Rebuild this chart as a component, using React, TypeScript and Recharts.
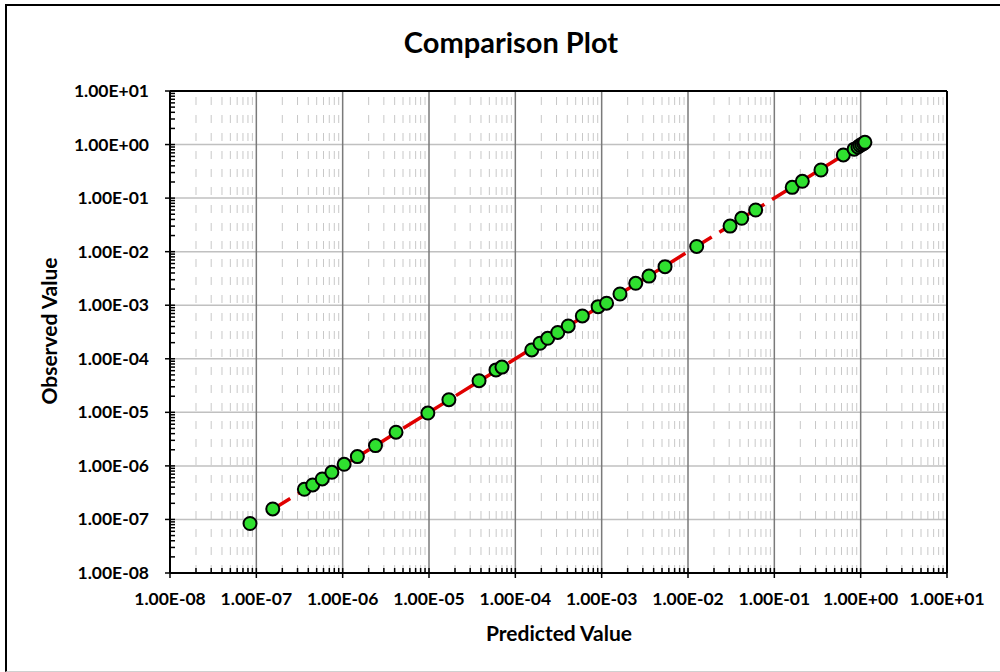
import React from 'react';
import { ComposedChart, Scatter, XAxis, YAxis, ReferenceLine } from 'recharts';

// Data
const predicted = [
  8.45e-8, 1.55e-7, 3.6e-7, 4.5e-7, 5.8e-7, 7.5e-7, 1.04e-6, 1.48e-6, 2.4e-6, 4.15e-6,
  9.7e-6, 1.7e-5, 3.8e-5, 5.97e-5, 7.0e-5, 1.55e-4, 1.93e-4, 2.37e-4, 3.1e-4, 4.1e-4,
  5.97e-4, 9.1e-4, 1.14e-3, 1.63e-3, 2.48e-3, 3.53e-3, 5.42e-3, 1.26e-2, 3.07e-2, 4.19e-2,
  6.08e-2, 0.161, 0.211, 0.347, 0.63, 0.84, 0.93, 0.98, 1.03, 1.08, 1.12,
];
const observed = [
  8.4e-8, 1.57e-7, 3.66e-7, 4.4e-7, 5.7e-7, 7.6e-7, 1.07e-6, 1.49e-6, 2.39e-6, 4.25e-6,
  9.7e-6, 1.72e-5, 3.9e-5, 6.2e-5, 7.0e-5, 1.46e-4, 1.95e-4, 2.41e-4, 3.1e-4, 4.1e-4,
  6.3e-4, 9.4e-4, 1.09e-3, 1.62e-3, 2.57e-3, 3.5e-3, 5.25e-3, 1.25e-2, 3.0e-2, 4.2e-2,
  6.0e-2, 0.159, 0.206, 0.335, 0.64, 0.82, 0.9, 0.96, 1.0, 1.05, 1.1,
];
const fitX = [1.5e-7, 1.1];
const fitY = [1.5e-7, 1.1];

const majorTicks = [1e-8, 1e-7, 1e-6, 1e-5, 1e-4, 1e-3, 1e-2, 1e-1, 1, 10];
const minorMultipliers = [2, 3, 4, 5, 6, 7, 8, 9];

const minorTicks: number[] = [];
majorTicks.slice(0, -1).forEach((m) => minorMultipliers.forEach((k) => minorTicks.push(+(m * k).toPrecision(3))));
const allTicks = [...majorTicks, ...minorTicks].sort((a, b) => a - b);

const points = predicted.map((p, i) => ({ x: p, y: observed[i] }));
const fitLine = fitX.map((x, i) => ({ x, y: fitY[i] }));

const FONT = 'Lato, "Noto Sans", sans-serif';

const isMajor = (v: number) => {
  const l = Math.log10(v);
  return Math.abs(l - Math.round(l)) < 1e-6;
};
const fmt = (v: number) => {
  const e = Math.round(Math.log10(v));
  const m = v / Math.pow(10, e);
  const sign = e < 0 ? '-' : '+';
  const abs = Math.abs(e);
  return `${m.toFixed(2)}E${sign}${abs < 10 ? '0' + abs : abs}`;
};

const XTick = (props: any) => {
  const { x, y, payload } = props;
  const major = isMajor(payload.value);
  return (
    <g>
      <line x1={x} x2={x} y1={y - 5} y2={major ? y + 5 : y} stroke="#000" strokeWidth={1.5} />
      {major && (
        <text x={x} y={y + 32} textAnchor="middle" fontFamily={FONT} fontWeight={700} fontSize={17.5} fill="#000">
          {fmt(payload.value)}
        </text>
      )}
    </g>
  );
};

const YTick = (props: any) => {
  const { x, y, payload } = props;
  const major = isMajor(payload.value);
  return (
    <g>
      <line x1={major ? x - 5 : x} x2={x + 5} y1={y} y2={y} stroke="#000" strokeWidth={1.5} />
      {major && (
        <text x={x - 21} y={y + 6} textAnchor="end" fontFamily={FONT} fontWeight={700} fontSize={17.5} fill="#000">
          {fmt(payload.value)}
        </text>
      )}
    </g>
  );
};

const Dot = (props: any) => {
  const { cx, cy } = props;
  if (cx == null || cy == null) return <g />;
  return <circle cx={cx} cy={cy} r={6.5} fill="#2fe02f" stroke="#000" strokeWidth={2} />;
};

export default function App() {
  return (
    <div style={{ position: 'fixed', left: 0, top: 0, width: 1000, height: 672, background: '#fff', overflow: 'hidden' }}>
      <div
        style={{
          position: 'absolute', left: 5, top: 4, width: 1010, height: 665,
          borderLeft: '2px solid #000', borderTop: '2px solid #000', borderBottom: '1px solid #d0d0d0',
        }}
      />
      <div style={{ position: 'absolute', left: 0, top: 0 }}>
        <ComposedChart width={1000} height={672} margin={{ top: 91, right: 53, bottom: 39, left: 90 }}>
          <XAxis
            dataKey="x" type="number" scale="log" domain={[1e-8, 10]} allowDataOverflow
            ticks={allTicks} interval={0} tick={<XTick />} tickLine={false} tickSize={0} tickMargin={0}
            height={60} axisLine={{ stroke: '#000', strokeWidth: 2 }}
          />
          <YAxis
            dataKey="y" type="number" scale="log" domain={[1e-8, 10]} allowDataOverflow
            ticks={allTicks} interval={0} tick={<YTick />} tickLine={false} tickSize={0} tickMargin={0}
            width={80} axisLine={{ stroke: '#000', strokeWidth: 2 }}
          />
          {minorTicks.map((v) => (
            <ReferenceLine key={'vx' + v} x={v} stroke="#c8c8c8" strokeWidth={1} strokeDasharray="8 10" />
          ))}
          {majorTicks.slice(1, -1).map((v) => (
            <ReferenceLine key={'hy' + v} y={v} stroke="#c0c0c0" strokeWidth={1.5} />
          ))}
          {majorTicks.slice(1, -1).map((v) => (
            <ReferenceLine key={'vmx' + v} x={v} stroke="#7a7a7a" strokeWidth={1.5} />
          ))}
          <ReferenceLine x={10} stroke="#000" strokeWidth={2} />
          <ReferenceLine y={10} stroke="#000" strokeWidth={2} />
          <Scatter
            data={fitLine} isAnimationActive={false}
            line={{ stroke: '#e00000', strokeWidth: 3.5, strokeDasharray: '22 9' }}
            shape={() => <g />}
          />
          <Scatter data={points} isAnimationActive={false} shape={<Dot />} />
        </ComposedChart>
      </div>
      <div style={{ position: 'absolute', left: 0, top: 24, width: 1022, textAlign: 'center', fontFamily: FONT, fontWeight: 700, fontSize: 29, color: '#000', lineHeight: '36px' }}>
        Comparison Plot
      </div>
      <div style={{ position: 'absolute', left: 459, top: 620, width: 200, textAlign: 'center', fontFamily: FONT, fontWeight: 700, fontSize: 21, color: '#000', lineHeight: '26px' }}>
        Predicted Value
      </div>
      <div
        style={{
          position: 'absolute', left: 49 - 100, top: 331 - 13, width: 200, textAlign: 'center',
          fontFamily: FONT, fontWeight: 700, fontSize: 21, color: '#000', transform: 'rotate(-90deg)',
          lineHeight: '26px',
        }}
      >
        Observed Value
      </div>
    </div>
  );
}
